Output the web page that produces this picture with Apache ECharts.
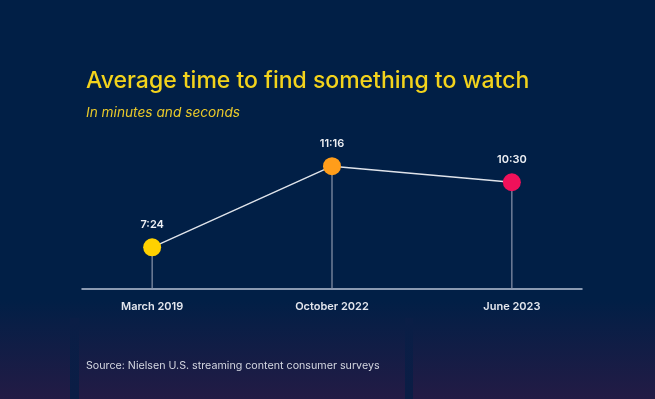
<!DOCTYPE html>
<html>
<head>
<meta charset="utf-8">
<title>Average time to find something to watch</title>
<script src="https://cdn.jsdelivr.net/npm/echarts@6/dist/echarts.min.js"></script>
<style>
	html, body { margin: 0; padding: 0; background: #011f46; }
	#chart { width: 655px; height: 399px; }
</style>
</head>
<body>
<div id="chart"></div>
<script>
// survey dates and average search time (seconds)
const categories = ['March 2019', 'October 2022', 'June 2023']
const seconds = [444, 676, 630]   // 7:24, 11:16, 10:30
const dotColors = ['#ffd100', '#ff9d1a', '#f0115a']

const fmt = s => Math.floor(s / 60) + ':' + String(s % 60).padStart(2, '0')

const chart = echarts.init(document.getElementById('chart'))
const yMin = 325

const fade = (a, b) => new echarts.graphic.LinearGradient(0, 0, 0, 1, [
	{ offset: 0, color: a },
	{ offset: 1, color: b }
])

let option = {
	backgroundColor: '#011f46',
	textStyle: { fontFamily: 'Inter, "Noto Sans", sans-serif' },
	graphic: [
		// lower band fades to purple
		{ type: 'rect', z: -10, silent: true, shape: { x: 0, y: 300, width: 655, height: 99 },
			style: { fill: fade('#011f46', '#231b45') } },
		{ type: 'rect', z: -9, silent: true, shape: { x: 70, y: 318, width: 9, height: 81 },
			style: { fill: fade('#0a1e46', '#0b1d45') } },
		{ type: 'rect', z: -9, silent: true, shape: { x: 405, y: 318, width: 8, height: 81 },
			style: { fill: fade('#0a1e46', '#0b1d45') } }
	],
	title: [
		{
			text: 'Average time to find something to watch',
			left: 86, top: 70, padding: 0,
			textStyle: { color: '#f3d31c', fontSize: 23, fontWeight: 500, fontFamily: 'Inter' }
		},
		{
			text: 'In minutes and seconds',
			left: 86, top: 106, padding: 0,
			textStyle: { color: '#e9c92a', fontSize: 13.7, fontStyle: 'italic', fontWeight: 'normal', fontFamily: 'Inter' }
		},
		{
			text: 'Source: Nielsen U.S. streaming content consumer surveys',
			left: 86, top: 360, padding: 0,
			textStyle: { color: '#d3d6e0', fontSize: 10.7, fontWeight: 'normal', fontFamily: 'Inter' }
		}
	],
	grid: { left: 82, right: 73, top: 121, bottom: 110 },
	xAxis: {
		type: 'value',
		min: -0.39,
		max: 2.39,
		splitLine: { show: false },
		axisTick: { show: false },
		axisLine: { show: true, lineStyle: { color: '#b9c3d6', width: 1.5 } },
		axisLabel: {
			customValues: categories.map((c, i) => i),
			formatter: v => categories[v] || '',
			color: '#e4e7ee',
			fontSize: 11,
			fontWeight: 600,
			margin: 12
		}
	},
	yAxis: {
		type: 'value',
		min: yMin,
		max: 805,
		show: false,
		splitLine: { show: false }
	},
	series: [
		{
			// drop lines under each point
			type: 'bar',
			barWidth: 1.2,
			silent: true,
			itemStyle: { color: '#8c96ac' },
			data: seconds.map((s, i) => [i, s]),
			z: 1
		},
		{
			type: 'line',
			symbol: 'circle',
			symbolSize: 18,
			lineStyle: { color: '#dfe3ea', width: 1.5 },
			z: 3,
			label: {
				show: true,
				position: 'top',
				distance: 8,
				color: '#eef0f4',
				fontSize: 11,
				fontWeight: 600,
				formatter: p => fmt(p.value[1])
			},
			data: seconds.map((s, i) => ({
				value: [i, s],
				itemStyle: { color: dotColors[i], borderWidth: 0 }
			}))
		}
	]
}

chart.setOption(option)
</script>
</body>
</html>
